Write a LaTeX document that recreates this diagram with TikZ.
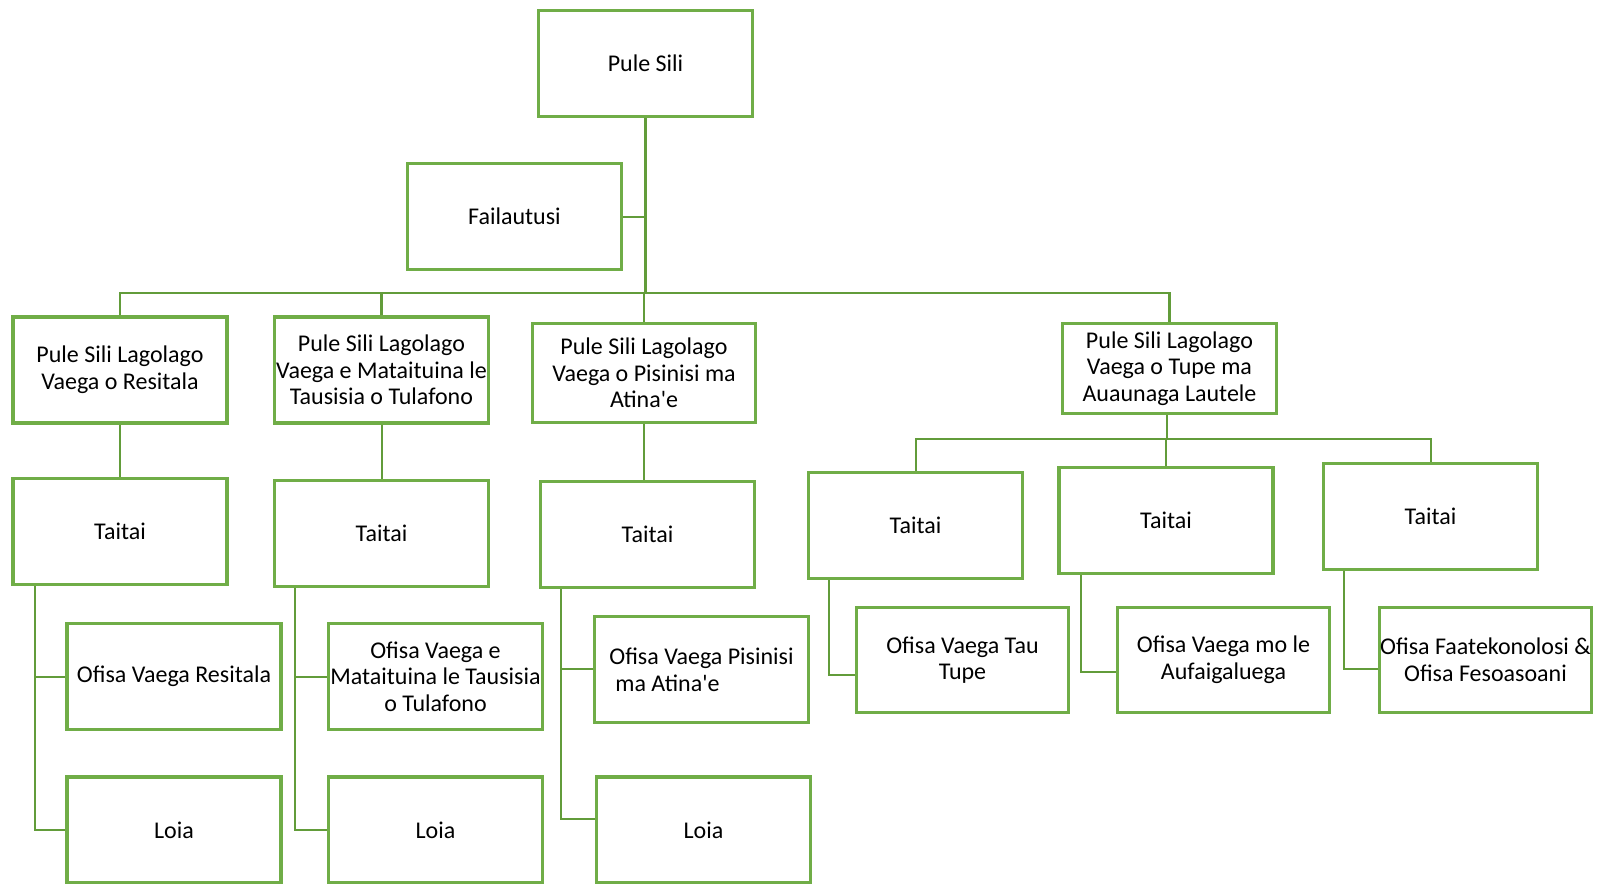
\documentclass[tikz,border=0pt]{standalone}
\usepackage{fontspec}
\setmainfont{Carlito}
\definecolor{boxgreen}{RGB}{112,173,71}
\definecolor{linegreen}{RGB}{98,156,58}
\begin{document}
\begin{tikzpicture}[x=0.5pt,y=-0.5pt,
  box/.style={draw=boxgreen, line width=1.6pt, fill=white, minimum width=107pt, minimum height=53pt, align=center, inner sep=0pt, font=\fontsize{12}{13.3}\selectfont},
  conn/.style={draw=linegreen, line width=1pt},
  trunk/.style={draw=linegreen, line width=1.4pt}]
\useasboundingbox (0,0) rectangle (1597,884);
\fill[white] (0,0) rectangle (1597,884);
% top
\node[box] (ps) at (645.5,63.5) {Pule Sili};
\node[box] (fa) at (514.5,216.5) {Failautusi};
% second level
\node[box] (l1) at (120,370) {Pule Sili Lagolago\\Vaega o Resitala};
\node[box] (l2) at (381.5,370) {Pule Sili Lagolago\\Vaega e Mataituina le\\Tausisia o Tulafono};
\node[box, minimum width=111.5pt, minimum height=49.5pt] (l3) at (644,373) {Pule Sili Lagolago\\Vaega o Pisinisi ma\\Atina\textquotesingle e};
\node[box, minimum height=45pt] (l4) at (1169.5,368.5) {Pule Sili Lagolago\\Vaega o Tupe ma\\Auaunaga Lautele};
% Taitai
\node[box] (t1) at (120,531.5) {Taitai};
\node[box] (t2) at (381.5,533.5) {Taitai};
\node[box] (t3) at (647.5,534.5) {Taitai};
\node[box] (t4) at (915.5,525.5) {Taitai};
\node[box] (t5) at (1166,520.5) {Taitai};
\node[box] (t6) at (1430.5,516.5) {Taitai};
% Ofisa
\node[box] (o1) at (174,676.5) {Ofisa Vaega Resitala};
\node[box] (o2) at (435.5,676.5) {Ofisa Vaega e\\Mataituina le Tausisia\\o Tulafono};
\node[box, align=left] (o3) at (701.5,669.5) {Ofisa Vaega Pisinisi\\\hspace{3pt}ma Atina\textquotesingle e};
\node[box, minimum width=106pt, minimum height=52.5pt] (o4) at (962.5,660) {Ofisa Vaega Tau\\Tupe};
\node[box, minimum width=106pt, minimum height=52.5pt] (o5) at (1223.5,660) {Ofisa Vaega mo le\\Aufaigaluega};
\node[box, minimum width=106pt, minimum height=52.5pt] (o6) at (1485.5,660) {Ofisa Faatekonolosi \&\\Ofisa Fesoasoani};
% Loia
\node[box] (lo1) at (174,830) {Loia};
\node[box] (lo2) at (435.5,830) {Loia};
\node[box] (lo3) at (703.5,830) {Loia};
% coordinates
\coordinate (bus) at (645,293);
\coordinate (b4) at (1167,439);
\coordinate (s1) at (35,0);
\coordinate (s2) at (295,0);
\coordinate (k3) at (561,819);
\coordinate (s3) at (561,669);
\coordinate (k4) at (829,675);
\coordinate (k5) at (1081,672);
\coordinate (k6) at (1344,669);
% top connectors
\draw[trunk] (ps.south) -- (ps.south |- bus);
\draw[conn] (fa.east) -- (fa.east -| ps.south);
\draw[trunk] (l1.north) |- (bus) -| (l4.north);
\draw[trunk] (l2.north) -- (l2.north |- bus);
\draw[trunk] (l3.north) -- (l3.north |- bus);
% level 2 to Taitai
\draw[conn] (l1.south) -- (t1.north);
\draw[conn] (l2.south) -- (t2.north);
\draw[conn] (l3.south) -- (l3.south |- t3.north);
\draw[conn] (b4 |- l4.south) -- (b4);
\draw[conn] (t4.north) |- (b4) -| (t6.north);
\draw[conn] (t5.north) -- (t5.north |- b4);
% Taitai to offices
\draw[conn] (s1 |- t1.south) |- (lo1.west);
\draw[conn] (s1 |- o1.west) -- (o1.west);
\draw[conn] (s2 |- t2.south) |- (lo2.west);
\draw[conn] (s2 |- o2.west) -- (o2.west);
\draw[conn] (s3 |- t3.south) -- (k3) -- (k3 -| lo3.west);
\draw[conn] (s3) -- (s3 -| o3.west);
\draw[conn] (k4 |- t4.south) -- (k4) -- (k4 -| o4.west);
\draw[conn] (k5 |- t5.south) -- (k5) -- (k5 -| o5.west);
\draw[conn] (k6 |- t6.south) -- (k6) -- (k6 -| o6.west);
\end{tikzpicture}
\end{document}
